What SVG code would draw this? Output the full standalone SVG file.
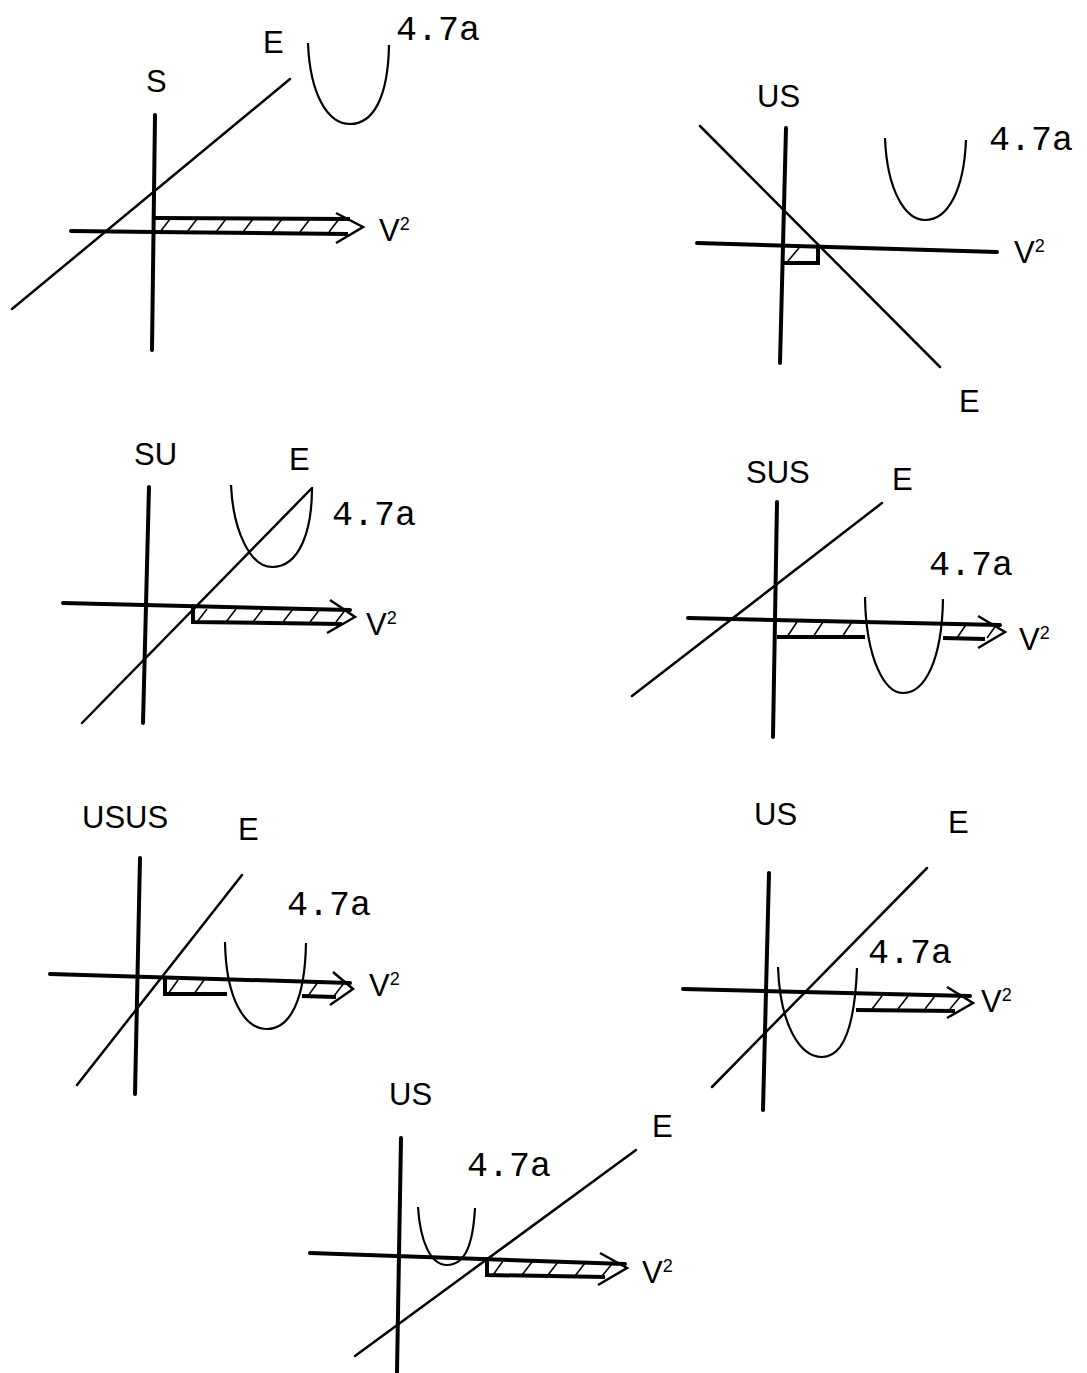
<svg xmlns="http://www.w3.org/2000/svg" width="1087" height="1373" viewBox="0 0 1087 1373">
<style>
.ax{stroke:#000;stroke-width:4;fill:none;stroke-linecap:round}
.band{stroke:#000;stroke-width:4;fill:none}
.e{stroke:#000;stroke-width:2.5;fill:none;stroke-linecap:round}
.par{stroke:#000;stroke-width:2.2;fill:none}
.hat{stroke:#000;stroke-width:1.6;fill:none}
.chev{stroke:#000;stroke-width:2.5;fill:none;stroke-linejoin:miter}
.lbl{font-family:"Liberation Sans",Arial,sans-serif;font-size:31px;fill:#000}
.num{font-family:"Liberation Mono","Courier New",monospace;font-size:35px;fill:#000}
.sup{font-size:18px}
</style>
<rect width="1087" height="1373" fill="#fff"/>

<g id="panel-S">
<path class="ax" d="M155,115 L152,350"/>
<path class="ax" d="M71,231 L155,232"/>
<path class="band" d="M155,218 L350,219 M155,232 L348,234"/>
<path class="chev" d="M336,213 L363,227 L336,243"/>
<path class="hat" d="M160,232 L170,219 M187,232 L197,219 M216,232 L226,219 M243,232 L253,219 M272,232 L282,219 M300,232 L310,219 M329,232 L339,219"/>
<path class="e" d="M12,309 L290,79"/>
<path class="par" d="M308,43 C310,95 328,124 350,124 C372,124 388,100 389,45"/>
<text class="lbl" x="263" y="53">E</text>
<text class="lbl" x="146" y="92">S</text>
<text class="num" x="396" y="40">4.7a</text>
<text class="lbl" x="379" y="241">V<tspan class="sup" dy="-11">2</tspan></text>
</g>

<g id="panel-US-1">
<path class="ax" d="M786,128 L780,363"/>
<path class="ax" d="M697,243 L997,252"/>
<path class="e" d="M700,126 L940,367"/>
<path class="band" d="M784,263 L818,263 L818,247"/>
<path class="hat" d="M788,261 L799,248"/>
<path class="par" d="M885,138 C887,190 905,220 925,220 C948,220 964,190 966,140"/>
<text class="lbl" x="757" y="107">US</text>
<text class="num" x="989" y="150">4.7a</text>
<text class="lbl" x="1014" y="263">V<tspan class="sup" dy="-11">2</tspan></text>
<text class="lbl" x="959" y="412">E</text>
</g>

<g id="panel-SU">
<path class="ax" d="M149,487 L143,723"/>
<path class="ax" d="M63,603 L350,610"/>
<path class="band" d="M193,606 L193,622 L342,624"/>
<path class="chev" d="M330,600 L355,617 L327,633"/>
<path class="hat" d="M197,622 L207,609 M226,622 L236,609 M253,622 L263,609 M283,622 L293,609 M310,622 L320,609 M336,622 L346,609"/>
<path class="e" d="M82,723 L312,488"/>
<path class="par" d="M231,485 C233,530 250,567 272,567 C300,567 312,530 312,488"/>
<text class="lbl" x="134" y="465">SU</text>
<text class="lbl" x="289" y="470">E</text>
<text class="num" x="332" y="525">4.7a</text>
<text class="lbl" x="366" y="635">V<tspan class="sup" dy="-11">2</tspan></text>
</g>

<g id="panel-SUS">
<path class="ax" d="M777,502 L773,737"/>
<path class="ax" d="M688,618 L1000,625"/>
<path class="band" d="M777,637 L865,637 M943,638 L985,639"/>
<path class="chev" d="M978,616 L1005,632 L978,648"/>
<path class="hat" d="M787,637 L797,622 M813,637 L823,622 M842,637 L852,622 M957,638 L967,623 M987,638 L997,624"/>
<path class="e" d="M632,696 L882,503"/>
<path class="par" d="M865,597 C866,660 885,693 903,693 C925,693 942,660 943,599"/>
<text class="lbl" x="746" y="483">SUS</text>
<text class="lbl" x="892" y="490">E</text>
<text class="num" x="929" y="575">4.7a</text>
<text class="lbl" x="1019" y="650">V<tspan class="sup" dy="-11">2</tspan></text>
</g>

<g id="panel-USUS">
<path class="ax" d="M140,858 L135,1094"/>
<path class="ax" d="M50,974 L350,983"/>
<path class="band" d="M165,977 L165,994 L227,994 M302,996 L336,997"/>
<path class="chev" d="M333,972 L353,989 L330,1005"/>
<path class="hat" d="M168,994 L178,980 M194,994 L204,980 M308,996 L318,982 M334,996 L344,983"/>
<path class="e" d="M77,1085 L242,875"/>
<path class="par" d="M225,942 C226,1000 245,1029 267,1029 C290,1029 305,1000 306,943"/>
<text class="lbl" x="82" y="828">USUS</text>
<text class="lbl" x="238" y="840">E</text>
<text class="num" x="287" y="915">4.7a</text>
<text class="lbl" x="369" y="996">V<tspan class="sup" dy="-11">2</tspan></text>
</g>

<g id="panel-US-2">
<path class="ax" d="M769,873 L763,1110"/>
<path class="ax" d="M683,989 L970,996"/>
<path class="band" d="M856,1010 L955,1011"/>
<path class="chev" d="M947,987 L973,1003 L947,1018"/>
<path class="hat" d="M872,1009 L882,996 M898,1009 L908,996 M925,1009 L935,996 M950,1009 L960,997"/>
<path class="e" d="M712,1087 L927,868"/>
<path class="par" d="M778,967 C780,1025 800,1057 822,1057 C845,1057 855,1020 857,968"/>
<text class="lbl" x="754" y="825">US</text>
<text class="lbl" x="948" y="833">E</text>
<text class="num" x="868" y="963">4.7a</text>
<text class="lbl" x="981" y="1012">V<tspan class="sup" dy="-11">2</tspan></text>
</g>

<g id="panel-US-3">
<path class="ax" d="M401,1138 L397,1372"/>
<path class="ax" d="M310,1253 L625,1264"/>
<path class="band" d="M487,1257 L487,1275 L605,1277"/>
<path class="chev" d="M600,1253 L627,1268 L598,1285"/>
<path class="hat" d="M493,1275 L503,1261 M522,1275 L532,1262 M548,1275 L558,1262 M575,1276 L585,1263 M602,1276 L612,1264"/>
<path class="e" d="M355,1356 L636,1150"/>
<path class="par" d="M418,1207 C420,1240 430,1265 447,1265 C465,1265 473,1245 475,1208"/>
<text class="lbl" x="389" y="1105">US</text>
<text class="lbl" x="652" y="1137">E</text>
<text class="num" x="467" y="1176">4.7a</text>
<text class="lbl" x="642" y="1283">V<tspan class="sup" dy="-11">2</tspan></text>
</g>

<g id="connectors"></g>
</svg>
